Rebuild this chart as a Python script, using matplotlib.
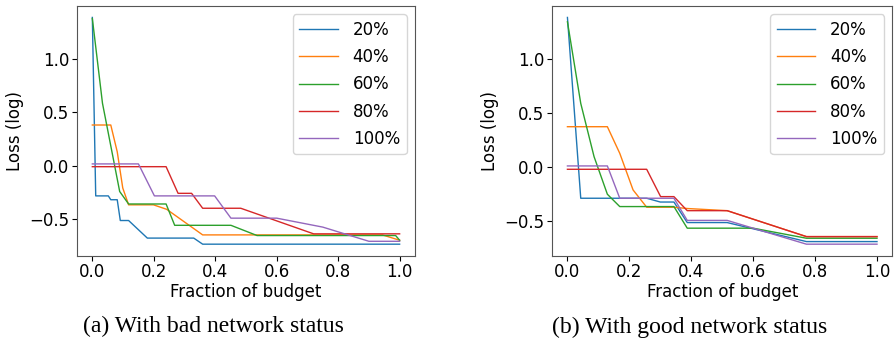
import matplotlib
matplotlib.use('Agg')
import matplotlib.pyplot as plt

# 예산 비율별 손실 곡선 (log loss)
labels = ['20%', '40%', '60%', '80%', '100%']

# (a) 네트워크 상태가 나쁠 때
x20_bad = [0.0, 0.011, 0.052, 0.06, 0.081, 0.091, 0.118, 0.179, 0.33, 0.359, 1.0]
y20_bad = [1.39, -0.284, -0.284, -0.32, -0.32, -0.515, -0.515, -0.68, -0.68, -0.737, -0.737]
x40_bad = [0.0, 0.06, 0.081, 0.099, 0.118, 0.199, 0.242, 0.359, 0.944, 1.0]
y40_bad = [0.381, 0.381, 0.13, -0.21, -0.368, -0.368, -0.41, -0.65, -0.65, -0.70]
x60_bad = [0.0, 0.033, 0.089, 0.118, 0.24, 0.268, 0.451, 0.536, 0.987, 1.0]
y60_bad = [1.38, 0.585, -0.243, -0.36, -0.36, -0.56, -0.56, -0.656, -0.656, -0.70]
x80_bad = [0.0, 0.24, 0.279, 0.323, 0.359, 0.483, 0.72, 1.0]
y80_bad = [-0.01, -0.01, -0.26, -0.26, -0.40, -0.40, -0.64, -0.64]
x100_bad = [0.0, 0.15, 0.202, 0.398, 0.451, 0.60, 0.75, 0.90, 1.0]
y100_bad = [0.016, 0.016, -0.284, -0.284, -0.493, -0.493, -0.577, -0.71, -0.71]

# (b) 네트워크 상태가 좋을 때
x20_good = [0.0, 0.043, 0.256, 0.30, 0.344, 0.387, 0.516, 0.772, 1.0]
y20_good = [1.388, -0.285, -0.285, -0.32, -0.32, -0.51, -0.51, -0.686, -0.686]
x40_good = [0.0, 0.129, 0.169, 0.212, 0.256, 0.344, 0.387, 0.516, 0.772, 1.0]
y40_good = [0.377, 0.377, 0.131, -0.208, -0.368, -0.368, -0.38, -0.40, -0.64, -0.64]
x60_good = [0.0, 0.043, 0.086, 0.129, 0.169, 0.344, 0.387, 0.60, 0.772, 1.0]
y60_good = [1.348, 0.593, 0.10, -0.248, -0.362, -0.362, -0.562, -0.562, -0.655, -0.655]
x80_good = [0.0, 0.256, 0.301, 0.344, 0.387, 0.516, 0.772, 1.0]
y80_good = [-0.017, -0.017, -0.27, -0.27, -0.40, -0.40, -0.64, -0.64]
x100_good = [0.0, 0.129, 0.169, 0.344, 0.387, 0.516, 0.772, 1.0]
y100_good = [0.014, 0.014, -0.285, -0.285, -0.49, -0.49, -0.71, -0.71]

bad_runs = [(x20_bad, y20_bad), (x40_bad, y40_bad), (x60_bad, y60_bad),
            (x80_bad, y80_bad), (x100_bad, y100_bad)]
good_runs = [(x20_good, y20_good), (x40_good, y40_good), (x60_good, y60_good),
             (x80_good, y80_good), (x100_good, y100_good)]

captions = ['(a) With bad network status', '(b) With good network status']


def draw_panel(ax, runs):
    for (xs, ys), label in zip(runs, labels):
        ax.plot(xs, ys, linewidth=1.0, label=label)
    ax.set_xlabel('Fraction of budget', fontsize=12, labelpad=1)
    ax.set_ylabel('Loss (log)', fontsize=12)
    ax.set_xticks([0.0, 0.2, 0.4, 0.6, 0.8, 1.0])
    ax.set_yticks([-0.5, 0.0, 0.5, 1.0])
    ax.tick_params(labelsize=12, pad=2)
    for spine in ax.spines.values():
        spine.set_color('#555555')
    ax.legend(loc='upper right', fontsize=12, handlelength=2.3,
              handletextpad=0.9, labelspacing=0.55)


fig = plt.figure(figsize=(8.94, 3.40), dpi=100)
ax_bad = fig.add_axes([0.0861, 0.2485, 0.3781, 0.7335])
ax_good = fig.add_axes([0.6174, 0.2485, 0.3809, 0.7335])

draw_panel(ax_bad, bad_runs)
draw_panel(ax_good, good_runs)

# 하단 캡션 (하강 문자가 잘리지 않도록 약간 띄움)
fig.text(0.239, 0.022, captions[0], ha='center', va='baseline',
         fontsize=17, family='Liberation Serif')
fig.text(0.771, 0.022, captions[1], ha='center', va='baseline',
         fontsize=17, family='Liberation Serif')

fig.savefig('out.png', dpi=100)
